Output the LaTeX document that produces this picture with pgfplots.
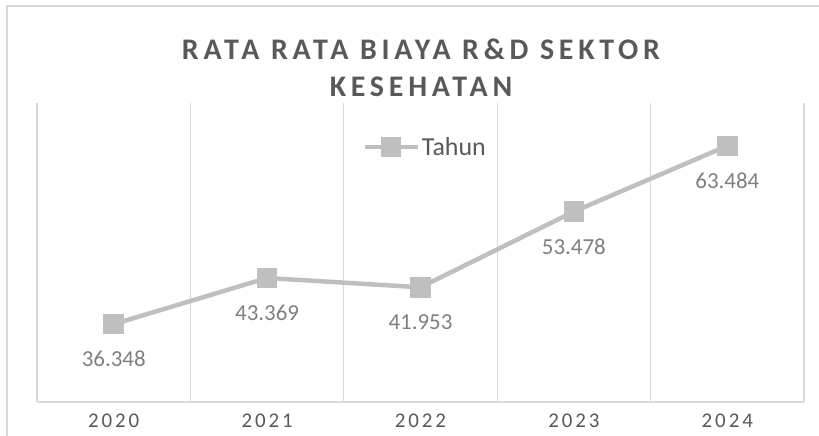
\documentclass[border=0pt]{standalone}
\usepackage{pgfplots}
\pgfplotsset{compat=1.18}
\usepackage{fontspec}
\setmainfont{Carlito}
\newfontfamily\titlefont[LetterSpace=16]{Carlito}
\newfontfamily\tickfont[LetterSpace=14]{Carlito}
\definecolor{titlegray}{HTML}{595959}
\definecolor{labgray}{HTML}{7F7F7F}
\definecolor{linegray}{HTML}{BFBFBF}
\definecolor{gridgray}{HTML}{D9D9D9}
\begin{document}
\begin{tikzpicture}[x=1bp,y=1bp]
\path[use as bounding box] (0,0) rectangle (819,436);
\draw[gridgray, line width=1.3bp] (7,0) -- (7,430) -- (819,430);
\node[font=\titlefont\bfseries\fontsize{30}{34}\selectfont, text=titlegray] at (421,387) {RATA RATA BIAYA R\&D SEKTOR};
\node[font=\titlefont\bfseries\fontsize{30}{34}\selectfont, text=titlegray] at (421,349) {KESEHATAN};
\begin{axis}[
  at={(37bp,34bp)}, anchor=south west,
  scale only axis, width=767bp, height=299bp,
  xmin=-0.5, xmax=4.5, ymin=24.5, ymax=70,
  axis y line=none,
  axis x line*=bottom,
  x axis line style={gridgray, line width=1.3bp, -},
  xtick={0,1,2,3,4},
  xticklabels={2020,2021,2022,2023,2024},
  xticklabel style={font=\tickfont\fontsize{21}{24}\selectfont, text=titlegray, yshift=-8bp},
  major tick length=0pt,
  extra x ticks={-0.5,0.5,1.5,2.5,3.5,4.5},
  extra x tick labels={},
  extra x tick style={grid=major, major grid style={gridgray, line width=1.3bp}},
  clip=false,
  legend style={at={(0.506,0.853)}, anchor=center, draw=none, fill=none, font=\fontsize{26}{30}\selectfont, text=titlegray, inner sep=0pt},
  legend cell align=left,
  legend image code/.code={\draw[linegray, line width=4.5bp] (0bp,0bp) -- (53bp,0bp); \fill[linegray] (18.5bp,-8bp) rectangle (34.5bp,8bp);},
  nodes near coords,
  point meta=explicit symbolic,
  every node near coord/.append style={font=\fontsize{23}{27}\selectfont, text=labgray, anchor=center, yshift=-35bp},
]
\addplot[linegray, line width=4.5bp, mark=square*, mark size=8bp, mark options={fill=linegray, draw=linegray}]
coordinates {(0,36.348)[36.348] (1,43.369)[43.369] (2,41.953)[41.953] (3,53.478)[53.478] (4,63.484)[63.484]};
\addlegendentry{Tahun}
\end{axis}
\end{tikzpicture}
\end{document}
